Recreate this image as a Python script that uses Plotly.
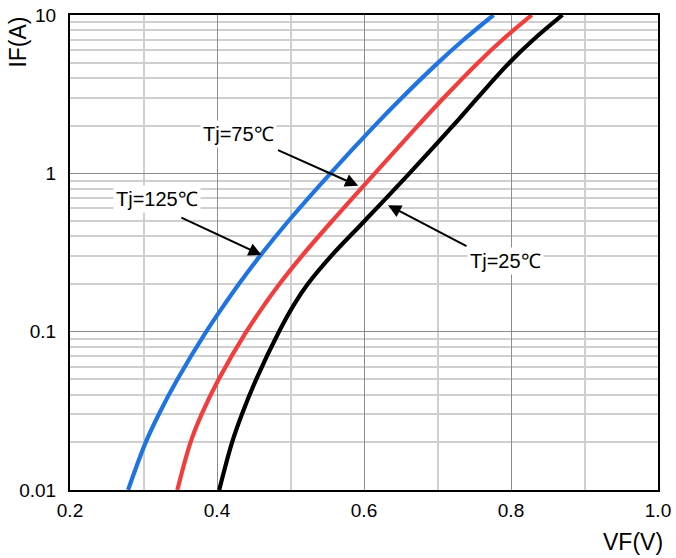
import plotly.graph_objects as go

# ---- data ----
IF_A = [0.01, 0.02, 0.03, 0.05, 0.1, 0.15, 0.2, 0.3, 0.5, 1, 2, 3, 5, 7, 10]

VF_125C = [0.279, 0.303, 0.3207, 0.3462, 0.3853, 0.4108, 0.4298, 0.4583, 0.4972,
           0.5544, 0.6146, 0.6516, 0.7009, 0.7359, 0.7762]
VF_75C = [0.346, 0.364, 0.379, 0.4023, 0.4399, 0.4654, 0.4850, 0.5153, 0.5566,
          0.6147, 0.6734, 0.7086, 0.7552, 0.7888, 0.8283]
VF_25C = [0.403, 0.4205, 0.4338, 0.4533, 0.4843, 0.5054, 0.5235, 0.5552, 0.6007,
          0.6618, 0.7211, 0.7545, 0.7978, 0.8307, 0.870]

SERIES_NAMES = ["Tj=125℃", "Tj=75℃", "Tj=25℃"]
SERIES_COLORS = ["#1f74e2", "#f23d3d", "#000000"]

X_TICKS = [0.2, 0.4, 0.6, 0.8, 1.0]
X_TICK_TEXT = ["0.2", "0.4", "0.6", "0.8", "1.0"]
X_MINOR = [0.3, 0.5, 0.7, 0.9]
Y_TICKS = [0.01, 0.1, 1, 10]
Y_TICK_TEXT = ["0.01", "0.1", "1", "10"]
Y_MINOR = [k * 10 ** d for d in (-2, -1, 0) for k in range(2, 10)]

FONT = "Liberation Sans, Arial, Helvetica, sans-serif"

fig = go.Figure()
for name, vf, col in zip(SERIES_NAMES, [VF_125C, VF_75C, VF_25C], SERIES_COLORS):
    fig.add_trace(go.Scatter(
        x=vf, y=IF_A, mode="lines", name=name,
        line=dict(color=col, width=4.2, shape="spline", smoothing=1.0),
        showlegend=False, cliponaxis=True))

DARK = "#8c8c8c"
LIGHT = "#cfcfcf"

fig.update_xaxes(
    range=[0.2, 1.0], tickvals=X_TICKS, ticktext=X_TICK_TEXT, automargin=False,
    showgrid=True, gridcolor=DARK, gridwidth=1,
    minor=dict(tickvals=X_MINOR, showgrid=True, gridcolor=LIGHT, gridwidth=1.5, ticklen=0),
    showline=True, mirror=True, linecolor="black", linewidth=2,
    ticks="outside", ticklen=2, tickcolor="rgba(0,0,0,0)", ticklabeloverflow="allow",
    tickfont=dict(family=FONT, size=19, color="black"), zeroline=False)

fig.update_yaxes(
    type="log", range=[-2, 1], tickvals=Y_TICKS, ticktext=Y_TICK_TEXT, automargin=False,
    showgrid=True, gridcolor=DARK, gridwidth=1,
    minor=dict(tickvals=Y_MINOR, showgrid=True, gridcolor=LIGHT, gridwidth=1.5, ticklen=0),
    showline=True, mirror=True, linecolor="black", linewidth=2,
    ticks="outside", ticklen=8, tickcolor="rgba(0,0,0,0)", ticklabeloverflow="allow",
    tickfont=dict(family=FONT, size=19, color="black"), zeroline=False)

ann = []
# axis titles
ann.append(dict(text="IF(A)", xref="paper", yref="paper", x=-0.09, y=1.0,
                xanchor="center", yanchor="top", textangle=-90, showarrow=False,
                font=dict(family=FONT, size=23, color="black")))
ann.append(dict(text="VF(V)", xref="paper", yref="paper", x=1.012, y=-0.078,
                xanchor="right", yanchor="top", showarrow=False,
                font=dict(family=FONT, size=23, color="black")))

# arrows (head x,y ; tail ax,ay) in data coordinates (log10 for y)
arrows = [
    (0.592, -0.079, 0.481, 0.151),
    (0.4606, -0.516, 0.3495, -0.275),
    (0.6327, -0.201, 0.7415, -0.464),
]
for hx, hy, tx, ty in arrows:
    ann.append(dict(x=hx, y=hy, ax=tx, ay=ty, xref="x", yref="y", axref="x", ayref="y",
                    text="", showarrow=True, arrowhead=2, arrowsize=1.3, arrowwidth=2,
                    arrowcolor="black", standoff=0, startstandoff=0))

labels = [("Tj=75℃", 0.4297, 0.249), ("Tj=125℃", 0.319, -0.163), ("Tj=25℃", 0.7923, -0.552)]
for txt, lx, ly in labels:
    ann.append(dict(text=txt, x=lx, y=ly, xref="x", yref="y", showarrow=False,
                    bgcolor="white", borderpad=2,
                    font=dict(family=FONT, size=20, color="black")))

fig.update_layout(
    width=676, height=558,
    margin=dict(l=70, r=18, t=15, b=68),
    paper_bgcolor="white", plot_bgcolor="white",
    annotations=ann)

# remove the browser's default 8px body margin so the figure fills the window
fig.write_html("out.html", config={"displayModeBar": False},
               post_script="document.body.style.margin='0';")
